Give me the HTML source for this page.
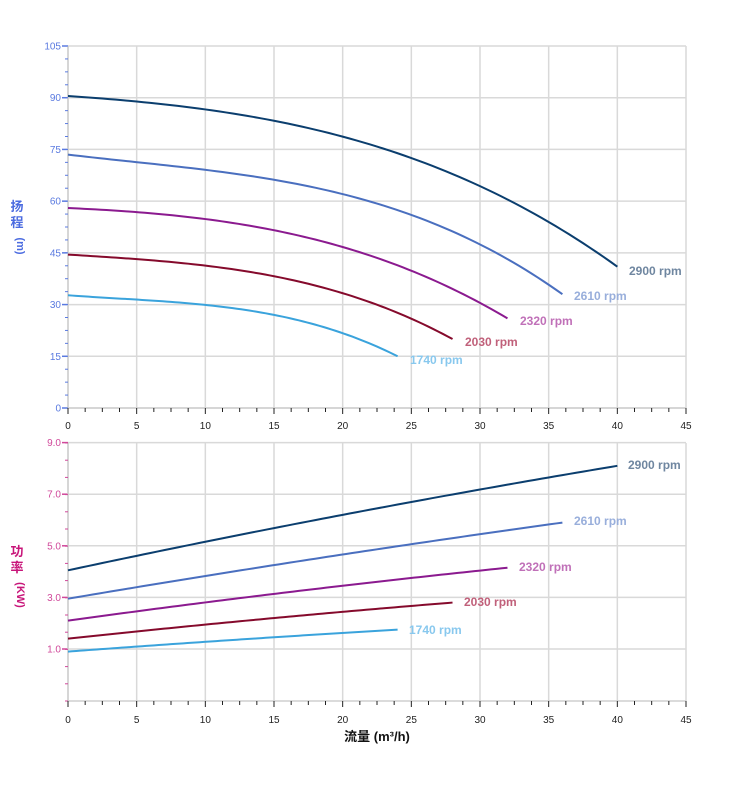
<!DOCTYPE html>
<html><head><meta charset="utf-8"><style>
html,body{margin:0;padding:0;background:#fff;}
svg{display:block;font-family:"Liberation Sans","Noto Sans CJK SC",sans-serif;}
</style></head><body>
<svg id="s" width="752" height="797" xmlns="http://www.w3.org/2000/svg">
<text x="17" y="211" font-size="13" fill="#4b6be0" text-anchor="middle" font-weight="bold">扬</text>
<text x="17" y="227" font-size="13" fill="#4b6be0" text-anchor="middle" font-weight="bold">程</text>
<text x="17" y="246" font-size="11" fill="#4b6be0" text-anchor="middle" font-weight="bold" transform="rotate(90 17 246)">(m)</text>
<text x="17" y="556" font-size="13" fill="#c8167a" text-anchor="middle" font-weight="bold">功</text>
<text x="17" y="572" font-size="13" fill="#c8167a" text-anchor="middle" font-weight="bold">率</text>
<text x="17" y="595" font-size="11" fill="#c8167a" text-anchor="middle" font-weight="bold" transform="rotate(90 17 595)">(KW)</text>
<text x="377" y="741" font-size="13" fill="#111" text-anchor="middle" font-weight="bold">流量 (m³/h)</text>
</svg>
<script>
var s=document.getElementById('s'),NS='http://www.w3.org/2000/svg';
function el(t,a,txt){var e=document.createElementNS(NS,t);for(var k in a)e.setAttribute(k,a[k]);if(txt!=null)e.textContent=txt;s.appendChild(e);return e;}
var X0=68,X1=686,xs=(X1-X0)/45;function px(q){return X0+q*xs;}
function panel(top,bot,yMajors,labFn,col,minorStep,ymap,xlabY){
 for(var q=0;q<=45;q+=5){el('line',{x1:px(q),x2:px(q),y1:top,y2:bot,stroke:'#d9d9d9','stroke-width':1.5});}
 yMajors.forEach(function(v){var y=ymap(v);el('line',{x1:X0,x2:X1,y1:y,y2:y,stroke:'#d9d9d9','stroke-width':1.5});
  el('line',{x1:X0-6,x2:X0,y1:y,y2:y,stroke:col,'stroke-width':1.5});
  el('text',{x:X0-7,y:y+3.5,'font-size':10,fill:col,'text-anchor':'end'},labFn(v));});
 el('line',{x1:X0,x2:X0,y1:top,y2:bot,stroke:'#cfcfcf','stroke-width':1.5});
 el('line',{x1:X0,x2:X1,y1:bot,y2:bot,stroke:'#cfcfcf','stroke-width':1.5});
 for(var y=top;y<=bot+0.5;y+=minorStep){el('line',{x1:X0-3,x2:X0,y1:y,y2:y,stroke:col,'stroke-width':1});}
 for(var q=0;q<=45.01;q+=1.25){var M=Math.abs(q/5-Math.round(q/5))<1e-6;el('line',{x1:px(q),x2:px(q),y1:bot,y2:bot+(M?6:4),stroke:'#222','stroke-width':1});}
 for(var q=0;q<=45;q+=5){el('text',{x:px(q),y:xlabY,'font-size':10,fill:'#222','text-anchor':'middle'},String(q));}
}
function lag(pts,x){var r=0;for(var i=0;i<pts.length;i++){var t=pts[i][1];for(var j=0;j<pts.length;j++)if(j!=i)t*=(x-pts[j][0])/(pts[i][0]-pts[j][0]);r+=t;}return r;}
function path(pts,ym){var end=pts[pts.length-1][0],d='';for(var k=0;k<=80;k++){var q=end*k/80;d+=(k?' L':'M')+px(q).toFixed(2)+','+ym(lag(pts,q)).toFixed(2);}return d;}
var hy=function(v){return 408-v*(362/105);};
panel(46,408,[0,15,30,45,60,75,90,105],function(v){return String(v);},'#5a7ae0',362/105*3.75,hy,429);
var py=function(v){return 649-(v-1)*25.8;};
panel(443,701,[1,3,5,7,9],function(v){return v.toFixed(1);},'#d0489a',25.8*2/3,py,723);
var cols=['#0b3e6e','#4a6fbf','#8b1a8f','#850a2c','#3aa3dc'];
var H=[
 [[0,90.5],[10,86.6],[25,72.5],[40,41]],
 [[0,73.5],[15,66.2],[25,56],[36,33]],
 [[0,58],[10,54.8],[20,46.7],[32,26]],
 [[0,44.5],[10,41.3],[20,33.3],[28,20]],
 [[0,32.7],[10,29.9],[20,21.7],[24,15]]];
var P=[
 [[0,4.05],[20,6.2],[40,8.1]],
 [[0,2.95],[18,4.5],[36,5.9]],
 [[0,2.1],[16,3.2],[32,4.15]],
 [[0,1.4],[14,2.15],[28,2.8]],
 [[0,0.9],[12,1.35],[24,1.75]]];
var labs=['2900 rpm','2610 rpm','2320 rpm','2030 rpm','1740 rpm'];
var lcol=['#6f86a0','#98aedb','#c070b8','#c0607a','#88c8ee'];
var tl=[[629,275],[574,300],[520,325],[465,346],[410,364]];
var bl=[[628,469],[574,525],[519,571],[464,606],[409,634]];
for(var i=0;i<5;i++){
 el('path',{d:path(H[i],hy),fill:'none',stroke:cols[i],'stroke-width':2});
 el('path',{d:path(P[i],py),fill:'none',stroke:cols[i],'stroke-width':2});
 el('text',{x:tl[i][0],y:tl[i][1],'font-size':12,fill:lcol[i],'font-weight':'bold'},labs[i]);
 el('text',{x:bl[i][0],y:bl[i][1],'font-size':12,fill:lcol[i],'font-weight':'bold'},labs[i]);
}
</script>
</body></html>
